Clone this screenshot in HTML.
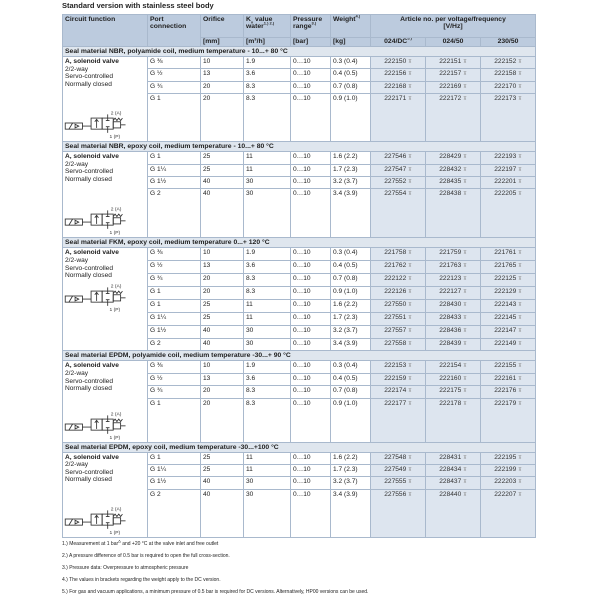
<!DOCTYPE html>
<html><head><meta charset="utf-8"><style>
body{margin:0;width:600px;height:600px;background:#fff;font-family:"Liberation Sans",sans-serif;color:#222;position:relative;overflow:hidden}
.title{position:absolute;left:62px;top:1px;font-size:7.5px;font-weight:bold}
table{position:absolute;left:62px;top:14px;width:473px;border-collapse:collapse;table-layout:fixed;font-size:6.6px}
td{border:1px solid #a9b9cd;padding:0 2px;vertical-align:top;line-height:7.4px;overflow:hidden;white-space:nowrap}
tr.h td{background:#bccbde;font-weight:bold;font-size:6.8px}
tr.h1 td{height:21px;padding-top:1px}
tr.h2 td{height:8px}
tr.s td{background:#dfe6ee;font-weight:bold;height:9px;font-size:6.8px;line-height:9px}
tr.d td{height:10.4px;padding-top:1px}
tr.d.f td{height:10.9px}
td.a{background:#dde5ef;text-align:center;color:#333}
td.c{line-height:7.6px;white-space:normal;position:relative}
.cart{color:#888;font-size:5px}
sup,sub{font-size:4px;line-height:0}
.fn{position:absolute;left:62px;font-size:5px;color:#222}
svg.v{position:absolute;left:1px;bottom:2px}
</style></head><body>
<div class="title">Standard version with stainless steel body</div>
<table>
<colgroup><col style="width:85px"><col style="width:53px"><col style="width:43px"><col style="width:47px"><col style="width:40px"><col style="width:40px"><col style="width:55px"><col style="width:55px"><col style="width:55px"></colgroup>
<tr class="h h1"><td rowspan="2">Circuit function</td><td rowspan="2" style="white-space:normal">Port connection</td><td>Orifice</td><td>K<sub>v</sub> value<br>water<sup>1.) 2.)</sup></td><td>Pressure<br>range<sup>3.)</sup></td><td>Weight<sup>4.)</sup></td><td colspan="3" style="text-align:center">Article no. per voltage/frequency<br>[V/Hz]</td></tr>
<tr class="h h2"><td>[mm]</td><td>[m³/h]</td><td>[bar]</td><td>[kg]</td><td style="text-align:center">024/DC<sup>5.)</sup></td><td style="text-align:center">024/50</td><td style="text-align:center">230/50</td></tr>

<tr class="s"><td colspan="9">Seal material NBR, polyamide coil, medium temperature - 10...+ 80 °C</td></tr>
<tr class="d"><td class="c" rowspan="4"><b>A, solenoid valve</b><br>2/2-way<br>Servo-controlled<br>Normally closed<svg class="v" width="64" height="32" viewBox="0 0 52 26"><use href="#vd"/></svg></td><td>G ⅜</td><td>10</td><td>1.9</td><td>0…10</td><td>0.3 (0.4)</td><td class="a">222150 <span class="cart">⊼</span></td><td class="a">222151 <span class="cart">⊼</span></td><td class="a">222152 <span class="cart">⊼</span></td></tr>
<tr class="d"><td>G ½</td><td>13</td><td>3.6</td><td>0…10</td><td>0.4 (0.5)</td><td class="a">222156 <span class="cart">⊼</span></td><td class="a">222157 <span class="cart">⊼</span></td><td class="a">222158 <span class="cart">⊼</span></td></tr>
<tr class="d"><td>G ¾</td><td>20</td><td>8.3</td><td>0…10</td><td>0.7 (0.8)</td><td class="a">222168 <span class="cart">⊼</span></td><td class="a">222169 <span class="cart">⊼</span></td><td class="a">222170 <span class="cart">⊼</span></td></tr>
<tr class="d"><td style="height:46px">G 1</td><td>20</td><td>8.3</td><td>0…10</td><td>0.9 (1.0)</td><td class="a">222171 <span class="cart">⊼</span></td><td class="a">222172 <span class="cart">⊼</span></td><td class="a">222173 <span class="cart">⊼</span></td></tr>

<tr class="s"><td colspan="9">Seal material NBR, epoxy coil, medium temperature - 10...+ 80 °C</td></tr>
<tr class="d"><td class="c" rowspan="4"><b>A, solenoid valve</b><br>2/2-way<br>Servo-controlled<br>Normally closed<svg class="v" width="64" height="32" viewBox="0 0 52 26"><use href="#vd"/></svg></td><td>G 1</td><td>25</td><td>11</td><td>0…10</td><td>1.6 (2.2)</td><td class="a">227546 <span class="cart">⊼</span></td><td class="a">228429 <span class="cart">⊼</span></td><td class="a">222193 <span class="cart">⊼</span></td></tr>
<tr class="d"><td>G 1¼</td><td>25</td><td>11</td><td>0…10</td><td>1.7 (2.3)</td><td class="a">227547 <span class="cart">⊼</span></td><td class="a">228432 <span class="cart">⊼</span></td><td class="a">222197 <span class="cart">⊼</span></td></tr>
<tr class="d"><td>G 1½</td><td>40</td><td>30</td><td>0…10</td><td>3.2 (3.7)</td><td class="a">227552 <span class="cart">⊼</span></td><td class="a">228435 <span class="cart">⊼</span></td><td class="a">222201 <span class="cart">⊼</span></td></tr>
<tr class="d"><td style="height:47px">G 2</td><td>40</td><td>30</td><td>0…10</td><td>3.4 (3.9)</td><td class="a">227554 <span class="cart">⊼</span></td><td class="a">228438 <span class="cart">⊼</span></td><td class="a">222205 <span class="cart">⊼</span></td></tr>

<tr class="s"><td colspan="9">Seal material FKM, epoxy coil, medium temperature 0...+ 120 °C</td></tr>
<tr class="d f"><td class="c" rowspan="8"><b>A, solenoid valve</b><br>2/2-way<br>Servo-controlled<br>Normally closed<svg class="v" width="64" height="32" viewBox="0 0 52 26" style="bottom:38px"><use href="#vd"/></svg></td><td>G ⅜</td><td>10</td><td>1.9</td><td>0…10</td><td>0.3 (0.4)</td><td class="a">221758 <span class="cart">⊼</span></td><td class="a">221759 <span class="cart">⊼</span></td><td class="a">221761 <span class="cart">⊼</span></td></tr>
<tr class="d f"><td>G ½</td><td>13</td><td>3.6</td><td>0…10</td><td>0.4 (0.5)</td><td class="a">221762 <span class="cart">⊼</span></td><td class="a">221763 <span class="cart">⊼</span></td><td class="a">221765 <span class="cart">⊼</span></td></tr>
<tr class="d f"><td>G ¾</td><td>20</td><td>8.3</td><td>0…10</td><td>0.7 (0.8)</td><td class="a">222122 <span class="cart">⊼</span></td><td class="a">222123 <span class="cart">⊼</span></td><td class="a">222125 <span class="cart">⊼</span></td></tr>
<tr class="d f"><td>G 1</td><td>20</td><td>8.3</td><td>0…10</td><td>0.9 (1.0)</td><td class="a">222126 <span class="cart">⊼</span></td><td class="a">222127 <span class="cart">⊼</span></td><td class="a">222129 <span class="cart">⊼</span></td></tr>
<tr class="d f"><td>G 1</td><td>25</td><td>11</td><td>0…10</td><td>1.6 (2.2)</td><td class="a">227550 <span class="cart">⊼</span></td><td class="a">228430 <span class="cart">⊼</span></td><td class="a">222143 <span class="cart">⊼</span></td></tr>
<tr class="d f"><td>G 1¼</td><td>25</td><td>11</td><td>0…10</td><td>1.7 (2.3)</td><td class="a">227551 <span class="cart">⊼</span></td><td class="a">228433 <span class="cart">⊼</span></td><td class="a">222145 <span class="cart">⊼</span></td></tr>
<tr class="d f"><td>G 1½</td><td>40</td><td>30</td><td>0…10</td><td>3.2 (3.7)</td><td class="a">227557 <span class="cart">⊼</span></td><td class="a">228436 <span class="cart">⊼</span></td><td class="a">222147 <span class="cart">⊼</span></td></tr>
<tr class="d f"><td>G 2</td><td>40</td><td>30</td><td>0…10</td><td>3.4 (3.9)</td><td class="a">227558 <span class="cart">⊼</span></td><td class="a">228439 <span class="cart">⊼</span></td><td class="a">222149 <span class="cart">⊼</span></td></tr>

<tr class="s"><td colspan="9">Seal material EPDM, polyamide coil, medium temperature -30...+ 90 °C</td></tr>
<tr class="d"><td class="c" rowspan="4"><b>A, solenoid valve</b><br>2/2-way<br>Servo-controlled<br>Normally closed<svg class="v" width="64" height="32" viewBox="0 0 52 26"><use href="#vd"/></svg></td><td>G ⅜</td><td>10</td><td>1.9</td><td>0…10</td><td>0.3 (0.4)</td><td class="a">222153 <span class="cart">⊼</span></td><td class="a">222154 <span class="cart">⊼</span></td><td class="a">222155 <span class="cart">⊼</span></td></tr>
<tr class="d"><td>G ½</td><td>13</td><td>3.6</td><td>0…10</td><td>0.4 (0.5)</td><td class="a">222159 <span class="cart">⊼</span></td><td class="a">222160 <span class="cart">⊼</span></td><td class="a">222161 <span class="cart">⊼</span></td></tr>
<tr class="d"><td>G ¾</td><td>20</td><td>8.3</td><td>0…10</td><td>0.7 (0.8)</td><td class="a">222174 <span class="cart">⊼</span></td><td class="a">222175 <span class="cart">⊼</span></td><td class="a">222176 <span class="cart">⊼</span></td></tr>
<tr class="d"><td style="height:42px">G 1</td><td>20</td><td>8.3</td><td>0…10</td><td>0.9 (1.0)</td><td class="a">222177 <span class="cart">⊼</span></td><td class="a">222178 <span class="cart">⊼</span></td><td class="a">222179 <span class="cart">⊼</span></td></tr>

<tr class="s"><td colspan="9">Seal material EPDM, epoxy coil, medium temperature -30...+100 °C</td></tr>
<tr class="d"><td class="c" rowspan="4"><b>A, solenoid valve</b><br>2/2-way<br>Servo-controlled<br>Normally closed<svg class="v" width="64" height="32" viewBox="0 0 52 26"><use href="#vd"/></svg></td><td>G 1</td><td>25</td><td>11</td><td>0…10</td><td>1.6 (2.2)</td><td class="a">227548 <span class="cart">⊼</span></td><td class="a">228431 <span class="cart">⊼</span></td><td class="a">222195 <span class="cart">⊼</span></td></tr>
<tr class="d"><td>G 1¼</td><td>25</td><td>11</td><td>0…10</td><td>1.7 (2.3)</td><td class="a">227549 <span class="cart">⊼</span></td><td class="a">228434 <span class="cart">⊼</span></td><td class="a">222199 <span class="cart">⊼</span></td></tr>
<tr class="d"><td>G 1½</td><td>40</td><td>30</td><td>0…10</td><td>3.2 (3.7)</td><td class="a">227555 <span class="cart">⊼</span></td><td class="a">228437 <span class="cart">⊼</span></td><td class="a">222203 <span class="cart">⊼</span></td></tr>
<tr class="d"><td style="height:46px">G 2</td><td>40</td><td>30</td><td>0…10</td><td>3.4 (3.9)</td><td class="a">227556 <span class="cart">⊼</span></td><td class="a">228440 <span class="cart">⊼</span></td><td class="a">222207 <span class="cart">⊼</span></td></tr>
</table>

<svg width="0" height="0" style="position:absolute"><defs><g id="vd" fill="none" stroke="#333" stroke-width="0.7">
<rect x="1" y="13" width="14" height="5"/><line x1="4" y1="18" x2="7" y2="13"/><path d="M9 14 L12 15.5 L9 17Z"/>
<line x1="15" y1="15.5" x2="22" y2="15.5"/><rect x="22" y="9" width="9" height="9"/><rect x="31" y="9" width="9" height="9"/>
<line x1="26.5" y1="17" x2="26.5" y2="10"/><path d="M25 12 L26.5 10 L28 12"/>
<line x1="35.5" y1="6" x2="35.5" y2="11"/><line x1="34" y1="11" x2="37" y2="11"/><line x1="35.5" y1="16" x2="35.5" y2="21"/><line x1="34" y1="16" x2="37" y2="16"/>
<path d="M40 11 l1.5 -2 l1.5 2 l1.5 -2 l1.5 2 l1.5 -2"/><rect x="40" y="12" width="6" height="5"/><line x1="46" y1="14.5" x2="50" y2="14.5"/>
<text x="38" y="6" font-size="4" fill="#333" stroke="none" font-family="Liberation Sans">2 (A)</text>
<text x="37" y="25" font-size="4" fill="#333" stroke="none" font-family="Liberation Sans">1 (P)</text>
</g></defs></svg>

<div class="fn" style="top:541px">1.) Measurement at 1 bar<sup>Δ</sup> and +20 °C at the valve inlet and free outlet</div>
<div class="fn" style="top:553px">2.) A pressure difference of 0.5 bar is required to open the full cross-section.</div>
<div class="fn" style="top:565px">3.) Pressure data: Overpressure to atmospheric pressure</div>
<div class="fn" style="top:577px">4.) The values in brackets regarding the weight apply to the DC version.</div>
<div class="fn" style="top:589px">5.) For gas and vacuum applications, a minimum pressure of 0.5 bar is required for DC versions. Alternatively, HP00 versions can be used.</div>
</body></html>
